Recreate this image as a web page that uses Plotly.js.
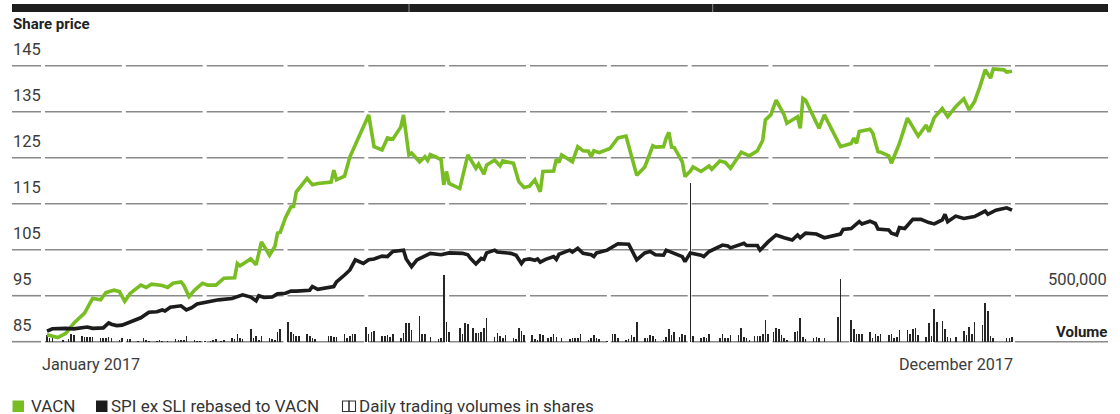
<!DOCTYPE html>
<html>
<head>
<meta charset="utf-8">
<script src="https://cdn.plot.ly/plotly-3.0.1.min.js"></script>
<style>
html,body{margin:0;padding:0;background:#ffffff;}
#chart{width:1120px;height:414px;}
</style>
</head>
<body>
<div id="chart"></div>
<script>
// ---------------- DATA ----------------
// Days are counted from 1 January 2017 (0 = 1 Jan 2017)
const vacnDay = [2,6,9,12,16,19,22,24,27,29,31,33,37,39,41,45,47,49,52,53,55,57,60,62,65,67,68,72,73,74,78,80,82,85,87,88,89,91,93,94,95,96,99,101,103,108,109,110,113,115,122,124,127,129,131,134,135,137,138,141,143,144,145,147,149,150,151,152,156,159,162,163,165,166,169,171,172,176,178,180,182,184,186,187,191,192,193,194,198,200,202,204,205,206,208,212,215,218,222,225,228,229,232,233,234,235,236,239,240,242,243,246,249,250,253,255,257,261,264,267,269,270,272,274,275,276,277,278,282,283,284,285,290,292,298,302,303,304,305,309,310,312,313,316,317,320,323,327,330,331,332,333,336,338,341,344,346,348,350,352,354,355,359,360,362];
const vacnPrice = [86.5,85.9,86.8,89.0,91.2,94.4,94.1,95.7,96.2,95.9,93.8,95.5,97.3,96.8,97.5,97.2,96.8,97.7,98.0,97.3,94.8,96.2,97.7,97.3,97.3,98.3,98.8,98.9,102.0,101.5,103.0,101.7,106.7,103.8,105.7,108.6,108.8,112.0,114.3,114.4,117.6,118.3,120.5,119.1,119.4,119.7,122.3,120.2,121.0,125.2,134.3,127.4,126.7,129.3,129.0,131.7,134.3,125.6,126.0,124.1,125.2,124.4,125.7,125.2,124.6,119.1,122.0,119.4,118.3,125.6,122.7,123.6,121.4,123.4,124.5,123.2,124.3,123.8,119.8,118.5,118.8,120.2,117.6,122.0,122.1,124.7,124.0,125.6,124.1,127.4,126.5,126.4,125.2,126.5,126.1,127.0,129.3,129.7,121.2,123.0,127.6,127.3,127.4,129.3,130.5,127.3,127.2,124.1,120.9,122.1,123.0,122.0,123.2,122.5,124.3,124.0,122.7,126.2,125.4,126.5,128.8,133.2,134.3,137.5,136.5,135.4,134.3,132.5,133.9,131.4,137.9,137.5,131.4,134.3,127.4,128.1,129.3,128.1,130.7,131.2,130.4,126.3,126.2,125.4,123.8,128.1,133.6,129.7,132.1,130.6,132.3,133.7,135.7,133.9,136.1,137.8,135.4,137.2,140.4,144.1,142.3,144.3,144.1,143.6,143.8];

const spiDay = [2,4,9,12,17,19,23,25,26,28,30,34,37,40,43,45,46,48,52,54,56,58,62,66,71,75,78,80,81,83,86,88,91,93,95,100,101,103,109,110,113,115,117,120,122,124,127,129,131,135,136,138,140,145,149,152,157,159,160,162,164,165,166,169,170,175,177,179,180,182,184,185,186,188,191,192,193,197,198,200,202,205,206,207,211,213,215,219,222,225,227,229,232,233,236,239,240,242,246,247,249,254,256,257,262,263,267,268,271,274,277,280,282,283,285,289,292,298,299,302,305,306,309,311,312,316,317,319,320,322,325,328,331,333,336,337,338,341,344,348,352,353,356,360,362];
const spiPrice = [87.3,87.8,87.9,87.8,88.2,87.9,88.0,89.1,88.8,88.5,88.6,89.6,90.2,91.4,91.5,91.9,91.7,92.5,92.8,91.9,92.4,93.2,93.6,94.1,94.4,95.2,94.7,93.9,95.0,94.6,94.7,95.4,95.55,96.0,96.0,96.2,97.0,96.4,97.0,98.0,99.5,100.6,102.8,102.0,102.8,103.0,103.6,103.5,104.6,104.9,103.0,101.3,102.8,104.2,103.9,104.3,104.2,103.9,103.1,101.9,103.1,102.9,104.3,104.9,104.5,104.2,103.8,102.0,102.8,103.0,102.7,103.0,102.3,102.9,103.5,102.9,104.0,104.9,104.5,105.3,104.2,103.9,103.5,104.3,104.9,105.7,106.3,106.2,102.8,104.3,104.6,103.9,103.8,104.9,104.1,103.5,102.4,104.3,103.8,103.5,104.6,106.0,105.8,105.4,106.4,105.9,105.9,104.9,106.7,108.2,107.6,107.1,108.2,107.6,108.6,108.4,107.6,108.4,109.4,109.6,111.1,110.6,111.2,110.7,109.5,109.3,108.6,108.2,109.8,109.6,111.6,111.6,110.9,110.6,111.5,112.7,111.1,112.3,111.8,112.2,113.4,112.7,113.6,114.1,113.6];

const volDay = [2,3,4,8,10,11,12,15,16,17,18,19,22,23,24,25,26,29,30,32,33,36,38,39,40,43,44,45,47,50,51,52,53,54,57,58,59,61,63,64,65,67,68,71,72,73,74,75,78,79,80,81,82,85,86,87,88,89,
92,93,94,95,96,99,100,101,102,107,108,109,110,113,114,115,116,117,121,122,123,124,127,128,129,130,131,134,135,136,137,138,141,142,143,145,148,149,150,151,152,156,157,158,159,161,162,163,164,165,166,169,170,171,172,173,176,177,178,179,180,
183,184,185,186,187,189,190,191,192,194,197,198,199,200,201,204,205,206,207,208,211,213,214,215,218,219,220,221,222,225,226,227,228,229,232,233,234,235,236,238,239,240,242,243,246,247,248,249,253,254,255,256,257,260,261,262,263,264,266,267,268,269,270,271,
273,274,275,276,277,278,281,282,283,284,285,288,289,290,292,297,298,302,303,304,305,306,309,310,311,312,313,316,317,318,319,320,323,324,325,326,327,330,331,332,333,334,336,337,338,339,341,344,345,346,347,348,351,352,353,354,355,360,361,362];
const volShares = [72000,36000,54000,18000,29000,80000,72000,62000,54000,47000,47000,54000,36000,36000,40000,54000,36000,18000,40000,29000,25000,11000,36000,18000,11000,7000,18000,11000,7000,29000,18000,18000,18000,65000,18000,11000,11000,7000,5000,18000,29000,11000,18000,36000,29000,80000,36000,25000,137000,36000,65000,18000,65000,36000,29000,18000,109000,137000,
210000,109000,80000,65000,65000,80000,65000,40000,29000,57000,65000,54000,47000,87000,36000,57000,80000,80000,163000,83000,109000,116000,65000,65000,72000,54000,87000,36000,98000,199000,206000,127000,279000,80000,87000,54000,29000,36000,725000,217000,109000,152000,83000,199000,188000,145000,98000,98000,109000,152000,261000,54000,98000,65000,36000,72000,40000,29000,145000,116000,72000,
72000,29000,18000,80000,72000,40000,54000,83000,54000,40000,29000,36000,40000,40000,80000,18000,36000,72000,40000,29000,11000,80000,83000,36000,18000,25000,72000,54000,217000,40000,40000,72000,57000,29000,18000,54000,137000,72000,101000,54000,83000,72000,1720000,65000,40000,54000,40000,80000,36000,80000,40000,36000,72000,72000,145000,54000,40000,18000,57000,57000,57000,80000,239000,83000,
109000,152000,137000,72000,36000,18000,101000,116000,254000,54000,29000,40000,54000,36000,36000,272000,681000,239000,137000,83000,83000,83000,109000,40000,83000,65000,83000,72000,83000,40000,54000,127000,127000,80000,134000,145000,72000,54000,199000,57000,355000,217000,228000,134000,54000,36000,54000,116000,72000,163000,83000,210000,181000,417000,333000,65000,40000,40000,40000,54000];

const priceTicks = [85, 95, 105, 115, 125, 135, 145];
const volumeTick = 500000;
const periodLabels = ['January 2017', 'December 2017'];
const axisTitles = ['Share price', 'Volume'];
const legendLabels = ['VACN', 'SPI ex SLI rebased to VACN', 'Daily trading volumes in shares'];

// ---------------- STYLE / GEOMETRY ----------------
const W = 1120, H = 414;
const FONT = 'Roboto, "Open Sans", "DejaVu Sans", sans-serif';
const GREEN = '#78bd22', BLACK = '#1c1c1c', GRID = '#8a8a8a', TEXT = '#3c3c3c';
const px = x => x / W;
const py = y => 1 - y / H;

function dayToDate(d) {
  const dt = new Date(Date.UTC(2017, 0, 1) + d * 86400000);
  return dt.toISOString().slice(0, 10);
}

const xDomain = [px(44.32), px(1014.69)];
const yDomain = [py(350.9), py(56.5)];

const traces = [
  {
    type: 'bar', name: legendLabels[2],
    x: volDay.map(dayToDate), y: volShares, yaxis: 'y',
    width: 0.6 * 86400000,
    marker: {color: '#262626', line: {width: 0}},
    hoverinfo: 'skip'
  },
  {
    type: 'scatter', mode: 'lines', name: legendLabels[0],
    x: vacnDay.map(dayToDate), y: vacnPrice, yaxis: 'y2',
    line: {color: GREEN, width: 3.6}
  },
  {
    type: 'scatter', mode: 'lines', name: legendLabels[1],
    x: spiDay.map(dayToDate), y: spiPrice, yaxis: 'y2',
    line: {color: BLACK, width: 3.6}
  }
];

const shapes = [];
// segmented gridlines
const gapCenters = Array.from({length: 13}, (_, i) => 43 + i * (1013 - 43) / 12);
const segs = [[12, 41]];
for (let i = 0; i < 12; i++) segs.push([gapCenters[i] + 2, gapCenters[i + 1] - 2]);
segs.push([1015, 1108]);
priceTicks.forEach(v => {
  segs.forEach(([a, b]) => shapes.push({
    type: 'line', xref: 'paper', yref: 'y2', x0: px(a), x1: px(b), y0: v, y1: v,
    line: {color: GRID, width: 1.6}, layer: 'below'
  }));
});
// top black bar
shapes.push({type: 'rect', xref: 'paper', yref: 'paper', x0: px(12), x1: px(1108), y0: py(12), y1: py(4),
  fillcolor: '#1e1e1e', line: {width: 0}});
[409, 712.7].forEach(x => shapes.push({type: 'line', xref: 'paper', yref: 'paper', x0: px(x), x1: px(x),
  y0: py(12), y1: py(4), line: {color: '#8c8c8c', width: 1}}));
// legend swatches
shapes.push({type: 'rect', xref: 'paper', yref: 'paper', x0: px(12.5), x1: px(24), y0: py(412), y1: py(400.5),
  fillcolor: GREEN, line: {width: 0}});
shapes.push({type: 'rect', xref: 'paper', yref: 'paper', x0: px(96), x1: px(107.5), y0: py(412), y1: py(400.5),
  fillcolor: BLACK, line: {width: 0}});
[[342.5, 349], [349, 355.5]].forEach(([a, b]) => shapes.push({type: 'rect', xref: 'paper', yref: 'paper',
  x0: px(a), x1: px(b), y0: py(411.5), y1: py(401), fillcolor: 'rgba(0,0,0,0)', line: {color: '#333333', width: 1.1}}));

const annotations = [];
// price tick labels above gridlines
priceTicks.forEach(v => annotations.push({
  xref: 'paper', yref: 'y2', x: px(11), y: v, xanchor: 'left', yanchor: 'middle', yshift: 16,
  text: String(v), showarrow: false, font: {family: FONT, size: 16.5, color: TEXT}
}));
// volume tick label
annotations.push({
  xref: 'paper', yref: 'y', x: px(1109), y: volumeTick, xanchor: 'right', yanchor: 'middle', yshift: 16,
  text: volumeTick.toLocaleString('en-US'), showarrow: false, font: {family: FONT, size: 16.5, color: TEXT}
});
// axis titles
annotations.push({
  xref: 'paper', yref: 'paper', x: px(11), y: py(24), xanchor: 'left', yanchor: 'middle',
  text: '<b>' + axisTitles[0] + '</b>', showarrow: false, font: {family: FONT, size: 15, color: '#222222'}
});
annotations.push({
  xref: 'paper', yref: 'y', x: px(1109), y: 0, xanchor: 'right', yanchor: 'middle', yshift: 10,
  text: '<b>' + axisTitles[1] + '</b>', showarrow: false, font: {family: FONT, size: 15, color: '#222222'}
});
// period labels
annotations.push({
  xref: 'paper', yref: 'paper', x: px(40), y: py(364), xanchor: 'left', yanchor: 'middle',
  text: periodLabels[0], showarrow: false, font: {family: FONT, size: 16.2, color: TEXT}
});
annotations.push({
  xref: 'paper', yref: 'paper', x: px(1015), y: py(364), xanchor: 'right', yanchor: 'middle',
  text: periodLabels[1], showarrow: false, font: {family: FONT, size: 16.2, color: TEXT}
});
// legend labels
[[29.5, 0], [110, 1], [358.5, 2]].forEach(([x, i]) => annotations.push({
  xref: 'paper', yref: 'paper', x: px(x), y: py(405.3), xanchor: 'left', yanchor: 'middle',
  height: 17, borderpad: 0, valign: 'middle',
  text: legendLabels[i], showarrow: false, font: {family: FONT, size: 17, color: '#333333'}
}));

const layout = {
  width: W, height: H,
  margin: {l: 0, r: 0, t: 0, b: 0, pad: 0},
  paper_bgcolor: '#ffffff', plot_bgcolor: 'rgba(0,0,0,0)',
  showlegend: false,
  font: {family: FONT},
  bargap: 0,
  xaxis: {type: 'date', domain: xDomain, range: [dayToDate(1), dayToDate(363)], visible: false, fixedrange: true},
  yaxis: {domain: yDomain, range: [-100000, 3100000], visible: false, fixedrange: true},
  yaxis2: {domain: yDomain, range: [83, 147], overlaying: 'y', visible: false, fixedrange: true},
  shapes: shapes,
  annotations: annotations
};

Plotly.newPlot('chart', traces, layout, {displayModeBar: false, staticPlot: true});
</script>
</body>
</html>
